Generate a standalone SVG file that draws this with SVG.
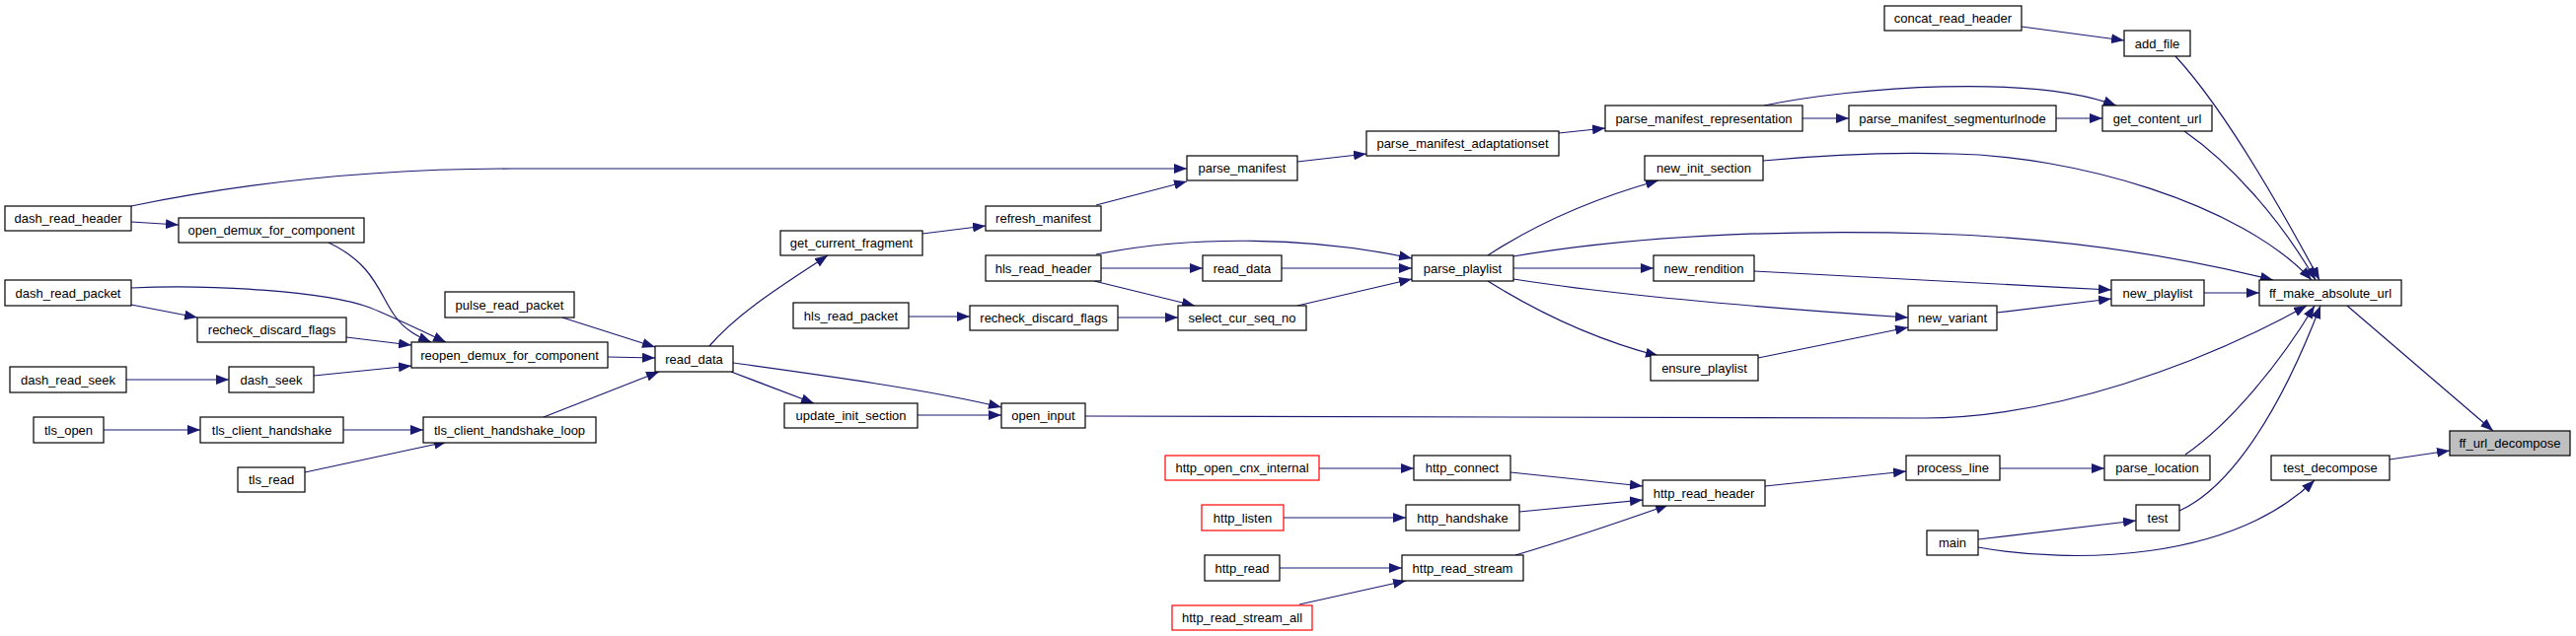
<svg xmlns="http://www.w3.org/2000/svg" width="2611" height="645" viewBox="0 0 2611 645">
<style>
.n rect{fill:#ffffff;stroke:#000000;stroke-width:1.2}
.n.h rect{fill:#bfbfbf}
.n.r rect{stroke:#ff0000}
.n text{font-family:"Liberation Sans",Arial,sans-serif;font-size:13px;fill:#000000;text-anchor:middle}
#edges path{fill:none;stroke:#191970;stroke-width:1.2;marker-end:url(#a)}
</style>
<defs>
<marker id="a" markerWidth="13" markerHeight="10" refX="13" refY="5" orient="auto" markerUnits="userSpaceOnUse"><path d="M0,0L13,5L0,10z" fill="#191970"/></marker>
</defs>
<rect width="2611" height="645" fill="#ffffff"/>
<g id="edges">
<path d="M2049,27 L2153,41"/>
<path d="M2205,57 C2240,95 2290,170 2351,284"/>
<path d="M1827,120 L1874,120"/>
<path d="M2084,120 L2131,120"/>
<path d="M1788,107 C1880,88 2060,75 2145,107"/>
<path d="M2214,133 C2260,165 2310,220 2347,284"/>
<path d="M1580,135 L1627,130"/>
<path d="M1315,164 L1385,156"/>
<path d="M133,209 C250,185 380,171 520,171 L1203,171"/>
<path d="M1111,208 L1203,184"/>
<path d="M935,237 L999,229"/>
<path d="M133,225 L181,228"/>
<path d="M333,246 C380,268 385,300 400,320 C410,335 425,342 437,347"/>
<path d="M133,292 C210,288 330,295 375,312 C400,322 430,337 452,347"/>
<path d="M133,309 L200,322"/>
<path d="M351,342 L417,350"/>
<path d="M128,385 L232,385"/>
<path d="M318,381 L417,371"/>
<path d="M616,362 L664,363"/>
<path d="M570,322 L664,352"/>
<path d="M551,423 L668,377"/>
<path d="M105,436 L203,436"/>
<path d="M348,436 L429,436"/>
<path d="M309,479 L453,448"/>
<path d="M719,351 C750,315 800,285 839,259"/>
<path d="M741,377 L825,409"/>
<path d="M743,368 C830,380 940,395 1015,413"/>
<path d="M930,421 L1015,421"/>
<path d="M1100,422 L1950,424 C2080,424 2230,370 2338,310"/>
<path d="M1111,258 C1200,240 1320,238 1431,262"/>
<path d="M1116,272 L1219,272"/>
<path d="M1299,272 L1431,272"/>
<path d="M1109,285 L1211,310"/>
<path d="M921,321 L983,321"/>
<path d="M1133,322 L1194,322"/>
<path d="M1315,310 L1431,283"/>
<path d="M1508,259 C1560,225 1620,200 1681,183"/>
<path d="M1787,163 C1850,157 1920,154 1980,156 C2100,158 2270,205 2343,284"/>
<path d="M1534,260 C1650,240 1800,232 1960,237 C2080,241 2200,258 2304,284"/>
<path d="M1534,272 L1676,272"/>
<path d="M1778,275 C1850,279 2000,287 2140,294"/>
<path d="M1534,283 C1640,300 1800,313 1934,322"/>
<path d="M1508,285 C1540,305 1600,340 1681,361"/>
<path d="M1782,363 L1934,332"/>
<path d="M2024,317 L2140,303"/>
<path d="M2234,297 L2290,297"/>
<path d="M2379,310 L2527,437"/>
<path d="M1337,475 L1433,475"/>
<path d="M1531,479 L1665,493"/>
<path d="M1301,525 L1425,525"/>
<path d="M1540,519 L1665,507"/>
<path d="M1297,576 L1421,576"/>
<path d="M1317,613 L1425,589"/>
<path d="M1536,563 C1580,550 1640,530 1691,512"/>
<path d="M1789,493 L1932,478"/>
<path d="M2027,475 L2133,475"/>
<path d="M2215,461 C2260,430 2310,370 2346,310"/>
<path d="M2209,518 C2260,495 2310,420 2352,310"/>
<path d="M2005,547 L2165,528"/>
<path d="M2005,555 C2100,572 2260,570 2346,487"/>
<path d="M2422,466 L2483,457"/>
</g>
<g id="concat_read_header" class="n"><rect x="1910" y="6" width="139" height="25"/><text x="1979.5" y="23">concat_read_header</text></g>
<g id="add_file" class="n"><rect x="2153" y="31" width="67" height="26"/><text x="2186.5" y="48.5">add_file</text></g>
<g id="parse_manifest_representation" class="n"><rect x="1627" y="107" width="200" height="26"/><text x="1727" y="124.5">parse_manifest_representation</text></g>
<g id="parse_manifest_segmenturlnode" class="n"><rect x="1874" y="107" width="210" height="26"/><text x="1979" y="124.5">parse_manifest_segmenturlnode</text></g>
<g id="get_content_url" class="n"><rect x="2131" y="107" width="111" height="26"/><text x="2186.5" y="124.5">get_content_url</text></g>
<g id="parse_manifest_adaptationset" class="n"><rect x="1385" y="133" width="195" height="25"/><text x="1482.5" y="150">parse_manifest_adaptationset</text></g>
<g id="parse_manifest" class="n"><rect x="1203" y="158" width="112" height="25"/><text x="1259" y="175">parse_manifest</text></g>
<g id="new_init_section" class="n"><rect x="1667" y="158" width="120" height="25"/><text x="1727" y="175">new_init_section</text></g>
<g id="dash_read_header" class="n"><rect x="5" y="209" width="128" height="25"/><text x="69" y="226">dash_read_header</text></g>
<g id="refresh_manifest" class="n"><rect x="999" y="209" width="117" height="25"/><text x="1057.5" y="226">refresh_manifest</text></g>
<g id="open_demux_for_component" class="n"><rect x="181" y="221" width="188" height="25"/><text x="275" y="238">open_demux_for_component</text></g>
<g id="get_current_fragment" class="n"><rect x="791" y="234" width="144" height="25"/><text x="863" y="251">get_current_fragment</text></g>
<g id="hls_read_header" class="n"><rect x="999" y="259" width="117" height="26"/><text x="1057.5" y="276.5">hls_read_header</text></g>
<g id="read_data_hls" class="n"><rect x="1219" y="259" width="80" height="26"/><text x="1259" y="276.5">read_data</text></g>
<g id="parse_playlist" class="n"><rect x="1431" y="259" width="103" height="26"/><text x="1482.5" y="276.5">parse_playlist</text></g>
<g id="new_rendition" class="n"><rect x="1676" y="259" width="102" height="26"/><text x="1727" y="276.5">new_rendition</text></g>
<g id="dash_read_packet" class="n"><rect x="5" y="284" width="128" height="26"/><text x="69" y="301.5">dash_read_packet</text></g>
<g id="new_playlist" class="n"><rect x="2140" y="284" width="94" height="26"/><text x="2187" y="301.5">new_playlist</text></g>
<g id="ff_make_absolute_url" class="n"><rect x="2290" y="284" width="144" height="26"/><text x="2362" y="301.5">ff_make_absolute_url</text></g>
<g id="pulse_read_packet" class="n"><rect x="451" y="296" width="131" height="26"/><text x="516.5" y="313.5">pulse_read_packet</text></g>
<g id="hls_read_packet" class="n"><rect x="804" y="307" width="117" height="26"/><text x="862.5" y="324.5">hls_read_packet</text></g>
<g id="recheck_discard_flags_hls" class="n"><rect x="983" y="310" width="150" height="25"/><text x="1058" y="327">recheck_discard_flags</text></g>
<g id="select_cur_seq_no" class="n"><rect x="1194" y="310" width="130" height="25"/><text x="1259" y="327">select_cur_seq_no</text></g>
<g id="new_variant" class="n"><rect x="1934" y="310" width="90" height="25"/><text x="1979" y="327">new_variant</text></g>
<g id="recheck_discard_flags_dash" class="n"><rect x="200" y="322" width="151" height="25"/><text x="275.5" y="339">recheck_discard_flags</text></g>
<g id="reopen_demux_for_component" class="n"><rect x="417" y="347" width="199" height="26"/><text x="516.5" y="364.5">reopen_demux_for_component</text></g>
<g id="read_data_dash" class="n"><rect x="664" y="351" width="79" height="26"/><text x="703.5" y="368.5">read_data</text></g>
<g id="ensure_playlist" class="n"><rect x="1673" y="360" width="109" height="26"/><text x="1727.5" y="377.5">ensure_playlist</text></g>
<g id="dash_read_seek" class="n"><rect x="10" y="372" width="118" height="26"/><text x="69" y="389.5">dash_read_seek</text></g>
<g id="dash_seek" class="n"><rect x="232" y="372" width="86" height="26"/><text x="275" y="389.5">dash_seek</text></g>
<g id="update_init_section" class="n"><rect x="795" y="409" width="135" height="25"/><text x="862.5" y="426">update_init_section</text></g>
<g id="open_input" class="n"><rect x="1015" y="409" width="85" height="25"/><text x="1057.5" y="426">open_input</text></g>
<g id="tls_open" class="n"><rect x="34" y="423" width="71" height="26"/><text x="69.5" y="440.5">tls_open</text></g>
<g id="tls_client_handshake" class="n"><rect x="203" y="423" width="145" height="26"/><text x="275.5" y="440.5">tls_client_handshake</text></g>
<g id="tls_client_handshake_loop" class="n"><rect x="429" y="423" width="175" height="26"/><text x="516.5" y="440.5">tls_client_handshake_loop</text></g>
<g id="ff_url_decompose" class="n h"><rect x="2483" y="437" width="122" height="25"/><text x="2544" y="454">ff_url_decompose</text></g>
<g id="http_open_cnx_internal" class="n r"><rect x="1181" y="462" width="156" height="25"/><text x="1259" y="479">http_open_cnx_internal</text></g>
<g id="http_connect" class="n"><rect x="1433" y="462" width="98" height="25"/><text x="1482" y="479">http_connect</text></g>
<g id="process_line" class="n"><rect x="1932" y="462" width="95" height="25"/><text x="1979.5" y="479">process_line</text></g>
<g id="parse_location" class="n"><rect x="2133" y="462" width="107" height="25"/><text x="2186.5" y="479">parse_location</text></g>
<g id="test_decompose" class="n"><rect x="2302" y="462" width="120" height="25"/><text x="2362" y="479">test_decompose</text></g>
<g id="tls_read" class="n"><rect x="241" y="474" width="68" height="25"/><text x="275" y="491">tls_read</text></g>
<g id="http_read_header" class="n"><rect x="1665" y="487" width="124" height="26"/><text x="1727" y="504.5">http_read_header</text></g>
<g id="http_listen" class="n r"><rect x="1218" y="512" width="83" height="26"/><text x="1259.5" y="529.5">http_listen</text></g>
<g id="http_handshake" class="n"><rect x="1425" y="512" width="115" height="26"/><text x="1482.5" y="529.5">http_handshake</text></g>
<g id="test" class="n"><rect x="2165" y="512" width="44" height="26"/><text x="2187" y="529.5">test</text></g>
<g id="main" class="n"><rect x="1953" y="538" width="52" height="25"/><text x="1979" y="555">main</text></g>
<g id="http_read" class="n"><rect x="1221" y="563" width="76" height="26"/><text x="1259" y="580.5">http_read</text></g>
<g id="http_read_stream" class="n"><rect x="1421" y="563" width="123" height="26"/><text x="1482.5" y="580.5">http_read_stream</text></g>
<g id="http_read_stream_all" class="n r"><rect x="1188" y="614" width="142" height="25"/><text x="1259" y="631">http_read_stream_all</text></g>
</svg>
